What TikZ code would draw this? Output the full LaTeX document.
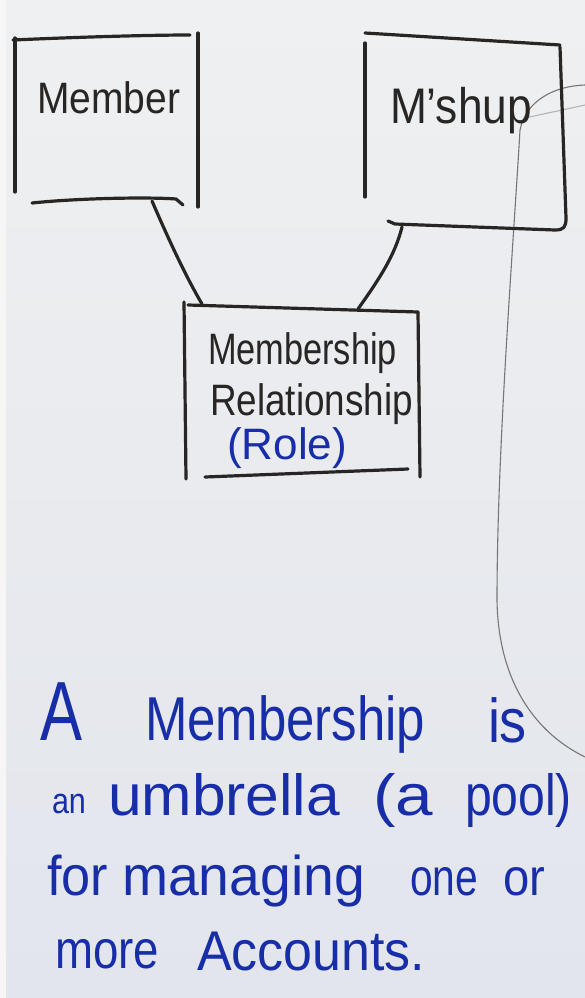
\documentclass[tikz,border=0pt]{standalone}
\usepackage{fontspec}
\setmainfont{Liberation Sans}
\usepackage{graphicx}
\definecolor{ink}{RGB}{40,38,36}
\definecolor{blueink}{RGB}{24,46,168}
\definecolor{boardtop}{RGB}{239,240,241}
\definecolor{boardbot}{RGB}{226,229,236}
\definecolor{boardedge}{RGB}{246,246,247}
\definecolor{pencil}{RGB}{118,118,120}
% word set in a given size, stretched to a given width only
\newcommand{\hword}[3]{\resizebox{#2pt}{\height}{\fontsize{#1pt}{#1pt}\selectfont #3}}
\tikzset{
  marker/.style={draw=ink,line width=3.2pt,line cap=round,line join=round},
  thinline/.style={draw=pencil,line width=1.1pt,line cap=round},
  hw/.style={inner sep=0pt,outer sep=0pt,anchor=base west},
  blackword/.style={hw,text=ink},
  blueword/.style={hw,text=blueink}
}
\begin{document}
\begin{tikzpicture}[x=1pt,y=-1pt]
\useasboundingbox (0,0) rectangle (585,998);
\shade[top color=boardtop,bottom color=boardbot] (0,0) rectangle (585,998);
\fill[boardedge] (0,0) rectangle (6,998);

% thin pencil line on the right
\coordinate (pa) at (585,85);
\coordinate (pb) at (520,130);
\coordinate (pc) at (497,600);
\coordinate (pd) at (585,757);
\draw[thinline] (pa) .. controls (555,86) and (526,100) .. (pb)
  .. controls (513,250) and (497,450) .. (pc)
  .. controls (498,675) and (530,730) .. (pd);
\coordinate (pe) at (525,118);
\coordinate (pf) at (585,105);
\draw[thinline,draw=pencil!55] (pe) -- (pf);

% Member box
\node[blackword] (member) at (37,113) {\hword{44}{143}{Member}};
\draw[marker] (15,38) -- (15,192);
\draw[marker] (13,40) .. controls (80,37) and (150,35) .. (190,35);
\draw[marker] (198,33) -- (198,207);
\draw[marker] (32,203) .. controls (80,198) and (150,197) .. (176,199) -- (183,205);

% M'shup box
\node[blackword] (mship) at (390,123) {\hword{50}{142}{M’shup}};
\draw[marker] (365,43) -- (365,197);
\draw[marker] (365,33) -- (560,45);
\draw[marker] (388,221) -- (395,224) -- (555,230)
  .. controls (564,230) and (566,227) .. (566,218) -- (560,47);

% Relationship box
\node[blackword] (rel1) at (208,364) {\hword{44}{189}{Membership}};
\node[blackword] (rel2) at (210,415) {\hword{44}{203}{Relationship}};
\node[blueword] (role) at (227,459) {\hword{44}{120}{(Role)}};
\draw[marker] (184,302) -- (186,479);
\draw[marker] (188,305) -- (418,312);
\draw[marker] (418,312) -- (420,477);
\draw[marker] (205,477) -- (408,469);

% connectors
\coordinate (c1a) at (152,201);
\coordinate (c1b) at (202,304);
\coordinate (c2a) at (402,227);
\coordinate (c2b) at (358,309);
\draw[marker] (c1a) .. controls (168,238) and (185,275) .. (c1b);
\draw[marker] (c2a) .. controls (395,255) and (380,278) .. (c2b);

% bottom text
\node[blueword] (w1) at (40,740) {\hword{84}{42}{A}};
\node[blueword] (w2) at (145,740) {\hword{62}{280}{Membership}};
\node[blueword] (w3) at (488,742) {\hword{62}{39}{is}};
\node[blueword] (w4) at (52,813) {\hword{36}{34}{an}};
\node[blueword] (w5) at (108,815) {\hword{58}{232}{umbrella}};
\node[blueword] (w6) at (373,815) {\hword{58}{60}{(a}};
\node[blueword] (w7) at (465,815) {\hword{58}{107}{pool)}};
\node[blueword] (w8) at (47,895) {\hword{56}{61}{for}};
\node[blueword] (w9) at (122,895) {\hword{56}{243}{managing}};
\node[blueword] (w10) at (410,895) {\hword{52}{68}{one}};
\node[blueword] (w11) at (503,895) {\hword{52}{42}{or}};
\node[blueword] (w12) at (55,968) {\hword{54}{104}{more}};
\node[blueword] (w13) at (197,970) {\hword{56}{228}{Accounts.}};
\end{tikzpicture}
\end{document}
